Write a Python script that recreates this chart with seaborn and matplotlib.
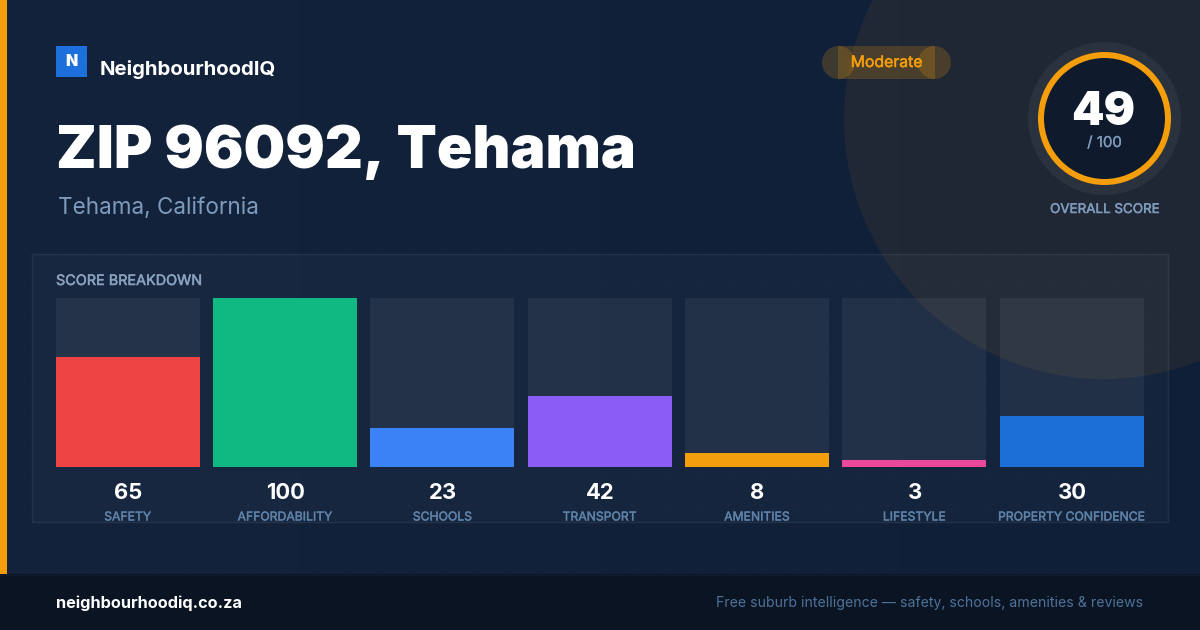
"""
NeighbourhoodIQ score card: ZIP 96092, Tehama
"""

import numpy as np
import matplotlib.pyplot as plt
import matplotlib.patheffects as pe
from matplotlib.colors import LinearSegmentedColormap
from matplotlib.patches import Circle, Rectangle
import pandas as pd
import seaborn as sns

categories = ['SAFETY', 'AFFORDABILITY', 'SCHOOLS', 'TRANSPORT', 'AMENITIES', 'LIFESTYLE', 'PROPERTY CONFIDENCE']
scores = [65, 100, 23, 42, 8, 3, 30]
score_max = [100, 100, 100, 100, 100, 100, 100]
bar_colors = ['#ef4444', '#10b981', '#3b82f6', '#8b5cf6', '#f59e0b', '#ec4899', '#1d6fd8']

AMBER = '#f59e0b'
MIN_BAR = 4.1  # the card keeps very small scores visible
WIDTH, HEIGHT = 1200, 630

sns.set_theme(style='white')
plt.rcParams['font.family'] = ['Inter', 'DejaVu Sans']

fig = plt.figure(figsize=(12, 6.3), dpi=100)


def px(size):
    """CSS pixels to points at 100 dpi"""
    return size * 0.72


def thicken(color, width=0.35):
    """Inter medium is not picked up by name, fake it with a thin stroke"""
    return [pe.withStroke(linewidth=width, foreground=color)]


# Background layer, drawn in pixel coordinates
bg = fig.add_axes([0, 0, 1, 1])
bg.set_xlim(0, WIDTH)
bg.set_ylim(HEIGHT, 0)
bg.axis('off')

cmap = LinearSegmentedColormap.from_list('bg', ['#13233c', '#0f1f38'])
gradient = np.linspace(0, 1, 256).reshape(1, -1)
bg.imshow(gradient, cmap=cmap, extent=(0, WIDTH, HEIGHT, 0), aspect='auto', zorder=0)

# faint dot grid
dot_x, dot_y = np.meshgrid(np.arange(24, WIDTH, 32), np.arange(25, 575, 32))
bg.scatter(dot_x.ravel(), dot_y.ravel(), s=2.2, color='white', alpha=0.03, linewidths=0, zorder=1)

bg.add_patch(Circle((1104, 119), 260, color=AMBER, alpha=0.07, lw=0, zorder=2))
bg.add_patch(Rectangle((32, 254), 1136, 268, facecolor=(1, 1, 1, 0.025), edgecolor=(1, 1, 1, 0.07), lw=1, zorder=3))

# footer and accent strip
bg.add_patch(Rectangle((0, 574), WIDTH, 56, facecolor='#0a1423', edgecolor='none', zorder=4))
bg.plot([0, WIDTH], [574.5, 574.5], color='#101c2e', lw=1, zorder=5)
bg.add_patch(Rectangle((0, 0), 7, 574, facecolor=AMBER, edgecolor='none', zorder=5))

# logo
bg.add_patch(Rectangle((56, 46), 31, 31, facecolor='#1d6fdb', edgecolor='none', zorder=5))
bg.text(71.5, 66, 'N', color='white', fontsize=px(16), fontweight='black', ha='center', va='baseline', zorder=6)
bg.text(100, 75, 'NeighbourhoodIQ', color='white', fontsize=px(20.35), fontweight='bold', va='baseline', zorder=6)

# heading
bg.text(56, 168, 'ZIP 96092, Tehama', color='white', fontsize=px(58.8), fontweight='black', va='baseline', zorder=6)
bg.text(58, 214, 'Tehama, California', color='#7f9bbb', fontsize=px(22.5), va='baseline', zorder=6)

# rating pill, the end caps overlap the middle
bg.add_patch(Rectangle((838, 46), 97, 33, facecolor=AMBER, alpha=0.2, edgecolor='none', zorder=5))
bg.add_patch(Circle((838.5, 62.5), 16.5, color=AMBER, alpha=0.2, lw=0, zorder=5))
bg.add_patch(Circle((934.5, 62.5), 16.5, color=AMBER, alpha=0.2, lw=0, zorder=5))
bg.text(886.5, 67, 'Moderate', color=AMBER, fontsize=px(15.8), ha='center', va='baseline',
        path_effects=thicken(AMBER), zorder=6)

# overall score ring
bg.add_patch(Circle((1104.5, 118.5), 76.5, color='white', alpha=0.05, lw=0, zorder=5))
bg.add_patch(Circle((1104.5, 118.5), 63.5, facecolor='#0f1b2d', edgecolor=AMBER, lw=px(6), zorder=5))
bg.text(1103.5, 125, '49', color='white', fontsize=px(46.5), fontweight='black', ha='center', va='baseline', zorder=6)
bg.text(1104.5, 147, '/ 100', color='#7f9bbb', fontsize=px(15), ha='center', va='baseline',
        path_effects=thicken('#7f9bbb', 0.2), zorder=6)
bg.text(1104.5, 213, 'OVERALL SCORE', color='#7f9bbb', fontsize=px(13.4), ha='center', va='baseline',
        path_effects=thicken('#7f9bbb'), zorder=6)

bg.text(56, 285, 'SCORE BREAKDOWN', color='#8aa2bf', fontsize=px(14.4), va='baseline',
        path_effects=thicken('#8aa2bf'), zorder=6)

# footer text
bg.text(56, 608, 'neighbourhoodiq.co.za', color='white', fontsize=px(16.3), fontweight='bold', va='baseline', zorder=6)
bg.text(1143.5, 607, 'Free suburb intelligence — safety, schools, amenities & reviews', color='#4f7299',
        fontsize=px(14.05), ha='right', va='baseline', zorder=6)

# Bars: 56-1144 px wide, 298-467 px down
ax = fig.add_axes([55.7 / WIDTH, 1 - 467 / HEIGHT, 1088 / WIDTH, 169 / HEIGHT])
ax.patch.set_alpha(0)

df = pd.DataFrame({'category': categories, 'score': np.maximum(scores, MIN_BAR), 'track': score_max})
bar_width = 144 / 157.33

sns.barplot(data=df, x='category', y='track', color='white', alpha=0.058, saturation=1,
            width=bar_width, order=categories, linewidth=0, ax=ax)
sns.barplot(data=df, x='category', y='score', hue='category', palette=bar_colors, saturation=1,
            width=bar_width, order=categories, hue_order=categories, dodge=False, legend=False,
            linewidth=0, ax=ax)

ax.set_xlim(-0.4576, 6.4576)
ax.set_ylim(0, 100)
ax.set_xlabel('')
ax.set_ylabel('')
ax.set_yticks([])
sns.despine(ax=ax, left=True, bottom=True)

ax.tick_params(axis='x', length=0, pad=38.5, labelsize=px(12.2), labelcolor='#5f82a8')
for label in ax.get_xticklabels():
    label.set_va('baseline')
    label.set_path_effects(thicken('#5f82a8', 0.3))

for i, value in enumerate(scores):
    ax.annotate(str(value), (i, 0), xytext=(0.3, -px(32)), textcoords='offset points', ha='center', va='baseline',
                color='white', fontsize=px(22), fontweight='bold', annotation_clip=False)

plt.savefig('out.png', dpi=100)
plt.close()
